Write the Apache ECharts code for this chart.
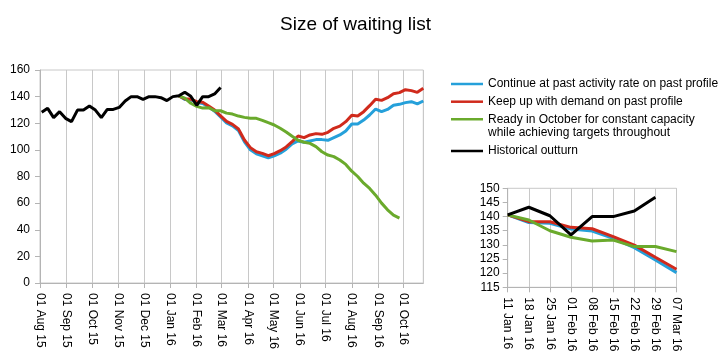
<!DOCTYPE html>
<html><head><meta charset="utf-8">
<script src="https://cdn.jsdelivr.net/npm/echarts@6/dist/echarts.min.js"></script>
<style>html,body{margin:0;padding:0;background:#fff}#c{width:726px;height:362px}</style>
</head><body><div id="c"></div>
<script>
const seriesNames = ['Continue at past activity rate on past profile', 'Keep up with demand on past profile', 'Ready in October for constant capacity\nwhile achieving targets throughout', 'Historical outturn'];
const seriesColors = ['#25a0da', '#d02a1c', '#6aaa2c', '#000000'];

const histDates = ['2015-08-03','2015-08-10','2015-08-17','2015-08-24','2015-08-31','2015-09-07','2015-09-14','2015-09-21','2015-09-28','2015-10-05','2015-10-12','2015-10-19','2015-10-26','2015-11-02','2015-11-09','2015-11-16','2015-11-23','2015-11-30','2015-12-07','2015-12-14','2015-12-21','2015-12-28','2016-01-04','2016-01-11','2016-01-18','2016-01-25','2016-02-01','2016-02-08','2016-02-15','2016-02-22','2016-02-29'];
const histValues = [128.2,131.2,124.2,128.7,123.7,121.2,129.9,129.9,132.9,129.9,124.2,130.4,130.4,131.9,136.7,140,140,138,140,140,139.2,137,140,140.6,143.3,140.3,133.5,140,140,142,146.8];

const forecastDates = ['2016-01-11','2016-01-18','2016-01-25','2016-02-01','2016-02-08','2016-02-15','2016-02-22','2016-02-29','2016-03-07','2016-03-14','2016-03-21','2016-03-28','2016-04-04','2016-04-11','2016-04-18','2016-04-25','2016-05-02','2016-05-09','2016-05-16','2016-05-23','2016-05-30','2016-06-06','2016-06-13','2016-06-20','2016-06-27','2016-07-04','2016-07-11','2016-07-18','2016-07-25','2016-08-01','2016-08-08','2016-08-15','2016-08-22','2016-08-29','2016-09-05','2016-09-12','2016-09-19','2016-09-26','2016-10-03','2016-10-10','2016-10-17','2016-10-24'];
const continueValues = [140.6,137.9,137.6,135.6,134.9,132.3,129,124.7,120.2,118,114.5,106,100,97,95.5,94,95.5,97.5,100.5,104.5,106.7,105.7,106.7,107.7,107.7,107.2,109.2,111.2,114.2,119.4,119.4,122.4,126.2,130.7,128.7,130.4,133.5,134.2,135.5,136.2,134.5,136.7];
const keepUpValues = [140.6,138.2,138.2,136.2,135.7,132.9,129.9,125.6,121.4,119.2,115.7,107.4,101.7,98.6,97.4,95.6,97.2,99.4,102.2,106.2,110.4,109.2,111.2,112.2,111.7,113.2,116.2,117.8,121.2,126,125.4,128.7,133.2,138,137.2,139.2,142.2,143,145.2,144.5,143.2,146.2];
const readyValues = [140.6,138.8,135,132.7,131.4,131.7,129.4,129.4,127.6,126.9,125.4,124.4,123.7,123.7,122.2,120.4,118.7,116.2,113.4,110.2,107.2,105.7,104.9,102.4,98.6,96.1,94.9,92.4,89.1,84,80,75,71,66,60,55,51,48.8];

const insetLabels = ['11 Jan 16','18 Jan 16','25 Jan 16','01 Feb 16','08 Feb 16','15 Feb 16','22 Feb 16','29 Feb 16','07 Mar 16'];
const insetCount = insetLabels.length;
const histInsetStart = histDates.indexOf('2016-01-11');

const monthNames = ['Jan','Feb','Mar','Apr','May','Jun','Jul','Aug','Sep','Oct','Nov','Dec'];
const FONT = "'Liberation Sans', Arial, sans-serif";
const GRID = '#c8c8c8';
const AXIS = '#b4b4b4';

function pairs(dates, values) { return values.map((v, i) => [dates[i], v]); }

const mainValues = [continueValues, keepUpValues, readyValues];
const series = [];
mainValues.forEach((vals, i) => {
  series.push({name: seriesNames[i], type: 'line', xAxisIndex: 0, yAxisIndex: 0, data: pairs(forecastDates, vals), showSymbol: false, symbol: 'none', lineStyle: {width: 3, color: seriesColors[i]}, itemStyle: {color: seriesColors[i]}, z: 2 + i});
});
series.push({name: seriesNames[3], type: 'line', xAxisIndex: 0, yAxisIndex: 0, data: pairs(histDates, histValues), showSymbol: false, symbol: 'none', lineStyle: {width: 3, color: seriesColors[3]}, itemStyle: {color: seriesColors[3]}, z: 6});
mainValues.forEach((vals, i) => {
  series.push({name: seriesNames[i], type: 'line', xAxisIndex: 1, yAxisIndex: 1, data: vals.slice(0, insetCount), showSymbol: false, symbol: 'none', lineStyle: {width: 3, color: seriesColors[i]}, itemStyle: {color: seriesColors[i]}, z: 2 + i});
});
series.push({name: seriesNames[3], type: 'line', xAxisIndex: 1, yAxisIndex: 1, data: histValues.slice(histInsetStart), showSymbol: false, symbol: 'none', lineStyle: {width: 3, color: seriesColors[3]}, itemStyle: {color: seriesColors[3]}, z: 6});

const legendCenters = [84, 101.7, 119.3, 151];
const legends = seriesNames.map((n, i) => {
  const two = n.indexOf('\n') >= 0;
  return {
    data: [n], orient: 'vertical', left: 451, top: two ? legendCenters[i] - 20 : legendCenters[i] - 7,
    padding: 0, icon: 'rect', itemWidth: 32, itemHeight: 2.5, itemGap: 0,
    formatter: two ? function (name) { return ' \n' + name; } : '{name}',
    textStyle: two ? {fontFamily: FONT, fontSize: 12, color: '#000', lineHeight: 13.3} : {fontFamily: FONT, fontSize: 12, color: '#000', lineHeight: 14},
    selectedMode: false
  };
});

const option = {
  animation: false,
  backgroundColor: '#fff',
  title: {text: 'Size of waiting list', left: 355.5, textAlign: 'center', top: 15, padding: 0, textStyle: {fontFamily: FONT, fontSize: 19, fontWeight: 'normal', color: '#000'}},
  legend: legends,
  grid: [
    {left: 40, top: 70, right: 302.7, bottom: 79, show: true, borderColor: GRID, borderWidth: 1, containLabel: false},
    {left: 507.7, top: 188.3, right: 49.5, bottom: 74.7, show: true, borderColor: GRID, borderWidth: 1, containLabel: false}
  ],
  xAxis: [
    {type: 'time', gridIndex: 0, min: '2015-08-01', max: '2016-10-24', splitNumber: 15,
     minInterval: 28 * 86400000, maxInterval: 31 * 86400000,
     axisLine: {lineStyle: {color: AXIS}}, axisTick: {show: true, length: 5, lineStyle: {color: AXIS}},
     splitLine: {show: true, lineStyle: {color: GRID}},
     axisLabel: {rotate: -90, margin: 10, fontFamily: FONT, fontSize: 12, color: '#000', showMaxLabel: false, showMinLabel: true, hideOverlap: false,
       formatter: function (val) { const d = new Date(val); if (d.getDate() !== 1) return ''; return '01 ' + monthNames[d.getMonth()] + ' ' + String(d.getFullYear()).slice(2); }}},
    {type: 'category', gridIndex: 1, data: insetLabels, boundaryGap: false,
     axisLine: {lineStyle: {color: AXIS}}, axisTick: {show: true, length: 5, alignWithLabel: true, lineStyle: {color: AXIS}},
     splitLine: {show: true, lineStyle: {color: GRID}},
     axisLabel: {rotate: -90, margin: 10, interval: 0, fontFamily: FONT, fontSize: 12, color: '#000'}}
  ],
  yAxis: [
    {type: 'value', gridIndex: 0, min: 0, max: 160, interval: 20,
     axisLine: {show: true, lineStyle: {color: AXIS}}, axisTick: {show: true, length: 5, lineStyle: {color: AXIS}},
     splitLine: {show: false}, axisLabel: {margin: 10, fontFamily: FONT, fontSize: 12, color: '#000'}},
    {type: 'value', gridIndex: 1, min: 115, max: 150, interval: 5,
     axisLine: {show: true, lineStyle: {color: AXIS}}, axisTick: {show: true, length: 5, lineStyle: {color: AXIS}},
     splitLine: {show: false}, axisLabel: {margin: 8, fontFamily: FONT, fontSize: 12, color: '#000'}}
  ],
  series: series
};
const chart = echarts.init(document.getElementById('c'), null, {renderer: 'canvas'});
chart.setOption(option);
</script></body></html>
